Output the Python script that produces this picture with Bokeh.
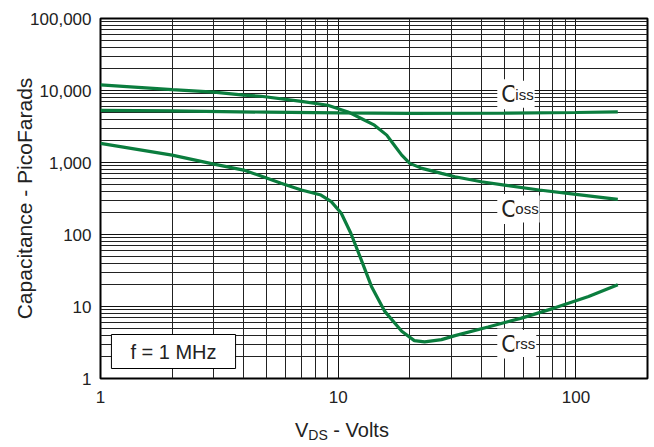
from bokeh.plotting import figure
from bokeh.models import FixedTicker, Label, Range1d, Div
from bokeh.layouts import column
from bokeh.embed import file_html
from bokeh.resources import INLINE

# ---- data (V_DS in volts, capacitance in pF) ----
coss_v = [1, 2, 3, 4, 4.73, 7, 9.04, 11.0, 12.5, 14.2, 16.0, 17.0, 18.5, 20.0,
          22.5, 27.2, 31, 40, 50, 70, 100, 150]
coss_c = [12000, 10300, 9500, 8600, 8320, 7080, 6240, 5040, 4080, 3300, 2400,
          1840, 1265, 972, 829, 706, 634, 540, 486, 415, 361, 308]

ciss_v = [1, 2, 5, 10, 20, 50, 100, 150]
ciss_c = [5300, 5200, 5000, 4880, 4800, 4850, 4950, 5050]

crss_v = [1, 2, 3, 4, 4.73, 5.75, 7, 8.46, 9.35, 10.3, 11.3, 12.5, 13.8, 15.7,
          18.5, 20.9, 23.1, 27.2, 31, 42.7, 59, 81, 113, 150]
crss_c = [1840, 1265, 950, 785, 648, 514, 415, 353, 286, 197, 104, 44.5, 19.0,
          8.55, 4.52, 3.36, 3.22, 3.47, 3.94, 5.2, 6.9, 9.5, 13.8, 20]

x_ticks = [1, 10, 100]
x_tick_labels = ["1", "10", "100"]
y_ticks = [1, 10, 100, 1000, 10000, 100000]
y_tick_labels = ["1", "10", "100", "1,000", "10,000", "100,000"]

curve_names = ["C", "C", "C"]
curve_subs = ["iss", "oss", "rss"]
curve_label_x = [49, 49, 49]
curve_label_y = [7300, 187, 2.52]

GREEN = "#0b7d3e"
FONT = "Liberation Sans"
TXT = "#222222"

p = figure(x_axis_type="log", y_axis_type="log",
           x_range=Range1d(1, 200), y_range=Range1d(1, 100000),
           width=650, height=405,
           min_border_left=100, min_border_right=3,
           min_border_top=18, min_border_bottom=26,
           output_backend="svg", toolbar_location=None)
p.background_fill_color = "white"
p.border_fill_color = "white"
p.outline_line_color = "black"
p.outline_line_width = 2

x_minor = [m * 10 ** k for k in range(0, 3) for m in range(2, 10) if m * 10 ** k <= 200]
y_minor = [m * 10 ** k for k in range(0, 5) for m in range(2, 10)]
p.xaxis.ticker = FixedTicker(ticks=x_ticks, minor_ticks=x_minor)
p.yaxis.ticker = FixedTicker(ticks=y_ticks, minor_ticks=y_minor)
p.xaxis.major_label_overrides = {t: s for t, s in zip(x_ticks, x_tick_labels)}
p.yaxis.major_label_overrides = {t: s for t, s in zip(y_ticks, y_tick_labels)}

for ax in (p.xaxis, p.yaxis):
    ax.axis_line_color = None
    ax.major_tick_line_color = None
    ax.minor_tick_line_color = None
    ax.major_tick_out = 0
    ax.major_label_text_font = FONT
    ax.major_label_text_font_size = "17px"
    ax.major_label_text_color = TXT
    ax.axis_label_text_font = FONT
    ax.axis_label_text_font_size = "21px"
    ax.axis_label_text_font_style = "normal"
    ax.axis_label_text_color = TXT

p.xaxis.major_label_standoff = 8
p.yaxis.major_label_standoff = 5
p.yaxis.axis_label = "Capacitance - PicoFarads"
p.yaxis.axis_label_standoff = -9

for g in (p.xgrid, p.ygrid):
    g.grid_line_color = "#111111"
    g.grid_line_width = 1
    g.minor_grid_line_color = "#222222"
    g.minor_grid_line_width = 1

p.line(coss_v, coss_c, line_color=GREEN, line_width=3.2)
p.line(ciss_v, ciss_c, line_color=GREEN, line_width=3.2)
p.line(crss_v, crss_c, line_color=GREEN, line_width=3.2)

# curve labels with white background: large C first, then the subscript whose
# narrow box starts just right of the C glyph
for name, sub, lx, ly in zip(curve_names, curve_subs, curve_label_x, curve_label_y):
    p.add_layout(Label(x=lx, y=ly, text=name, text_font=FONT, text_font_size="23px",
                       text_color=TXT, text_baseline="alphabetic",
                       background_fill_color="white", padding=(4, 2),
                       x_offset=-5, y_offset=6))
    p.add_layout(Label(x=lx, y=ly, text=sub, text_font=FONT, text_font_size="15px",
                       text_color=TXT, text_baseline="alphabetic",
                       background_fill_color="white", padding=(1, 5),
                       x_offset=12, y_offset=6))

# frequency box
p.add_layout(Label(x=73, y=27, x_units="screen", y_units="screen", text="f = 1 MHz",
                   text_font=FONT, text_font_size="20px", text_color=TXT,
                   text_align="center", text_baseline="middle",
                   background_fill_color="white", border_line_color="black",
                   border_line_width=1, padding=(19, 6)))

# x axis label with subscript (HTML text below the plot)
xlabel = Div(text='V<span style="font-size:14px; vertical-align:-3px">DS</span> - Volts',
             width=200, height=26, margin=(14, 0, 0, 295),
             styles={"font-family": FONT, "font-size": "20px", "color": TXT,
                     "line-height": "22px", "white-space": "nowrap"})

layout = column(p, xlabel, spacing=0)
open("out.html", "w").write(file_html(layout, INLINE))
